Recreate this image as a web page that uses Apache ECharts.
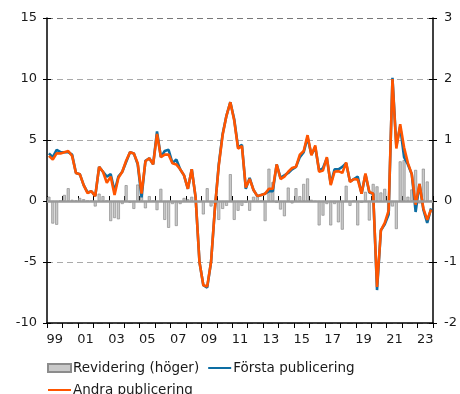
<!DOCTYPE html>
<html>
<head>
<meta charset="utf-8">
<script src="https://cdn.jsdelivr.net/npm/echarts@6/dist/echarts.min.js"></script>
<style>
  html, body { margin: 0; padding: 0; background: #fff; }
  #chart { width: 460px; height: 394px; }
</style>
</head>
<body>
<div id="chart"></div>
<script>
// Quarterly categories 1999 Q1 – 2023 Q4
const quarters = [];
for (let y = 1999; y <= 2023; y++) {
  for (let q = 1; q <= 4; q++) quarters.push(y + 'Q' + q);
}

// Year labels for the bottom axis
const years = ['99','00','01','02','03','04','05','06','07','08','09','10','11','12',
               '13','14','15','16','17','18','19','20','21','22','23'];

// Revision, percentage points (right axis)
const revidering = [
  0.07, -0.37, -0.39, 0.00,   0.10, 0.21, 0.02, 0.01,
  0.05, 0.03, 0.00, 0.00,    -0.09, 0.12, 0.08, 0.00,
  -0.33, -0.28, -0.30, -0.05, 0.26, -0.03, -0.13, 0.27,
  0.15, -0.12, 0.08, 0.00,   -0.15, 0.20, -0.31, -0.44,
  -0.05, -0.41, -0.05, 0.05,  0.03, 0.07, 0.00, -0.02,
  -0.22, 0.21, -0.09, -0.05, -0.31, -0.13, -0.08, 0.44,
  -0.31, -0.16, -0.08, -0.03, -0.16, 0.07, 0.08, 0.00,
  -0.33, 0.53, 0.31, -0.03,  -0.14, -0.25, 0.22, -0.04,
  0.21, 0.08, 0.28, 0.37,     0.02, -0.01, -0.40, -0.24,
  -0.05, -0.40, -0.05, -0.35, -0.47, 0.25, -0.08, 0.00,
  -0.40, -0.03, 0.15, -0.32,  0.28, 0.24, 0.14, 0.20,
  -0.17, -0.09, -0.46, 0.65,  0.67, 0.07, 0.19, 0.51,
  -0.04, 0.53, 0.32, 0.00
];

// First publication, annual % change (left axis)
const forsta = [
  3.9, 3.6, 4.2, 4.0,   4.0, 4.0, 3.8, 2.3,
  2.2, 1.3, 0.7, 0.8,   0.4, 2.8, 2.4, 2.0,
  2.2, 0.8, 2.0, 2.4,   3.2, 4.0, 3.9, 3.0,
  0.3, 3.3, 3.5, 3.0,   5.7, 3.6, 4.1, 4.2,
  3.1, 3.4, 2.6, 2.1,   1.0, 2.6, 0.3, -5.0,
  -6.9, -7.1, -5.0, -0.6, 3.0, 5.5, 7.0, 8.1,
  6.7, 4.4, 4.6, 1.0,   1.9, 0.9, 0.4, 0.5,
  0.6, 0.8, 0.8, 3.0,   1.9, 2.1, 2.3, 2.6,
  2.8, 3.6, 4.0, 5.2,   3.8, 4.4, 2.5, 2.7,
  3.5, 1.4, 2.6, 2.6,   2.8, 3.1, 1.6, 1.8,
  2.0, 0.6, 2.2, 0.7,   0.6, -7.3, -2.4, -1.9,
  -1.1, 10.1, 4.5, 6.1, 3.6, 3.0, 2.2, -0.9,
  1.4, -0.7, -1.8, -0.6
];

// Second publication, annual % change (left axis)
const andra = [
  3.7, 3.4, 3.9, 3.9,   4.0, 4.1, 3.7, 2.3,
  2.2, 1.3, 0.65, 0.8,  0.4, 2.8, 2.4, 1.5,
  2.0, 0.5, 1.9, 2.4,   3.3, 4.0, 3.9, 3.1,
  0.6, 3.25, 3.5, 3.0,  5.5, 3.6, 3.8, 3.8,
  3.1, 3.0, 2.6, 2.1,   1.0, 2.6, 0.3, -5.0,
  -6.9, -7.0, -5.0, -0.6, 2.9, 5.4, 7.0, 8.1,
  6.6, 4.3, 4.5, 1.1,   1.8, 0.9, 0.4, 0.5,
  0.6, 1.0, 1.0, 3.0,   1.8, 2.0, 2.4, 2.7,
  2.8, 3.8, 4.1, 5.4,   3.75, 4.55, 2.4, 2.5,
  3.6, 1.3, 2.4, 2.45,  2.3, 3.15, 1.55, 1.8,
  1.75, 0.6, 2.25, 0.75, 0.6, -7.05, -2.4, -1.8,
  -0.8, 10.0, 4.3, 6.3, 4.4, 3.1, 2.2, -0.3,
  1.4, -0.6, -1.55, -0.7
];

const leftTicks = { min: -10, max: 15, step: 5 };
const rightTicks = { min: -2, max: 3, step: 1 };

const FONT = 'DejaVu Sans';
const TEXT = '#1a1a1a';

// Extra axes that only draw the inner half of the tick marks
function innerTickY(pos, range) {
  return {
    type: 'value', position: pos, min: range.min, max: range.max, interval: range.step,
    axisLine: { show: false },
    axisTick: { show: true, inside: true, length: 4, lineStyle: { color: '#000' } },
    axisLabel: { show: false },
    splitLine: { show: false }
  };
}

const chart = echarts.init(document.getElementById('chart'), null, { renderer: 'canvas' });

chart.setOption({
  animation: false,
  backgroundColor: '#fff',
  textStyle: { fontFamily: FONT, color: TEXT },
  grid: { left: 47, right: 27, top: 18, bottom: 71, containLabel: false },
  legend: {
    left: 42, top: 356, width: 330,
    itemWidth: 23, itemHeight: 8, itemGap: 8,
    textStyle: { fontFamily: FONT, fontSize: 13.5, color: TEXT, padding: [0, 0, 0, -3] },
    data: [
      { name: 'Revidering (höger)', icon: 'rect' },
      { name: 'Första publicering', itemStyle: { opacity: 0 } },
      { name: 'Andra publicering', itemStyle: { opacity: 0 } }
    ]
  },
  xAxis: [
    { // quarterly positions for the data
      type: 'category', data: quarters, boundaryGap: true, show: false
    },
    { // year ticks and labels, outer half of ticks
      type: 'category', data: years, boundaryGap: true, position: 'bottom',
      axisLine: { show: true, onZero: false, lineStyle: { color: '#000', width: 1.5 } },
      axisTick: { show: true, interval: 0, inside: false, length: 5, lineStyle: { color: '#000', width: 1 } },
      axisLabel: { interval: 1, fontFamily: FONT, fontSize: 13, color: TEXT, margin: 10 },
      splitLine: { show: false }
    },
    { // inner half of ticks
      type: 'category', data: years, boundaryGap: true, position: 'bottom',
      axisLine: { show: false },
      axisTick: { show: true, interval: 0, inside: true, length: 5, lineStyle: { color: '#000', width: 1 } },
      axisLabel: { show: false },
      splitLine: { show: false }
    }
  ],
  yAxis: [
    {
      type: 'value', min: leftTicks.min, max: leftTicks.max, interval: leftTicks.step,
      axisLine: { show: true, lineStyle: { color: '#000', width: 1.5 } },
      axisTick: { show: true, length: 4, lineStyle: { color: '#000' } },
      axisLabel: { fontFamily: FONT, fontSize: 13, color: TEXT, margin: 10 },
      splitLine: { show: true, lineStyle: { color: ['#999', '#aaa', '#aaa', '#aaa', '#aaa', '#777'], type: [6, 4], width: 1 } }
    },
    {
      type: 'value', min: rightTicks.min, max: rightTicks.max, interval: rightTicks.step,
      position: 'right',
      axisLine: { show: true, lineStyle: { color: '#000', width: 1.5 } },
      axisTick: { show: true, length: 4, lineStyle: { color: '#000' } },
      axisLabel: { fontFamily: FONT, fontSize: 13, color: TEXT, margin: 11 },
      splitLine: { show: false }
    },
    innerTickY('left', leftTicks),
    innerTickY('right', rightTicks)
  ],
  series: [
    {
      name: 'Revidering (höger)', type: 'bar', xAxisIndex: 0, yAxisIndex: 1,
      data: revidering, barCategoryGap: '22%',
      itemStyle: { color: '#c9c9c9', borderColor: '#8c8c8c', borderWidth: 0.7 },
      markLine: {
        silent: true, symbol: 'none', label: { show: false },
        lineStyle: { color: '#9a9a9a', type: 'solid', width: 2.5 },
        data: [{ yAxis: 0 }]
      },
      z: 1
    },
    {
      name: 'Första publicering', type: 'line', xAxisIndex: 0, yAxisIndex: 0,
      data: forsta, symbol: 'none',
      lineStyle: { color: '#0d6ea3', width: 2.6 },
      itemStyle: { color: '#0d6ea3' },
      z: 3
    },
    {
      name: 'Andra publicering', type: 'line', xAxisIndex: 0, yAxisIndex: 0,
      data: andra, symbol: 'none',
      lineStyle: { color: '#ff5500', width: 2.6 },
      itemStyle: { color: '#ff5500' },
      z: 4
    }
  ]
});
</script>
</body>
</html>
